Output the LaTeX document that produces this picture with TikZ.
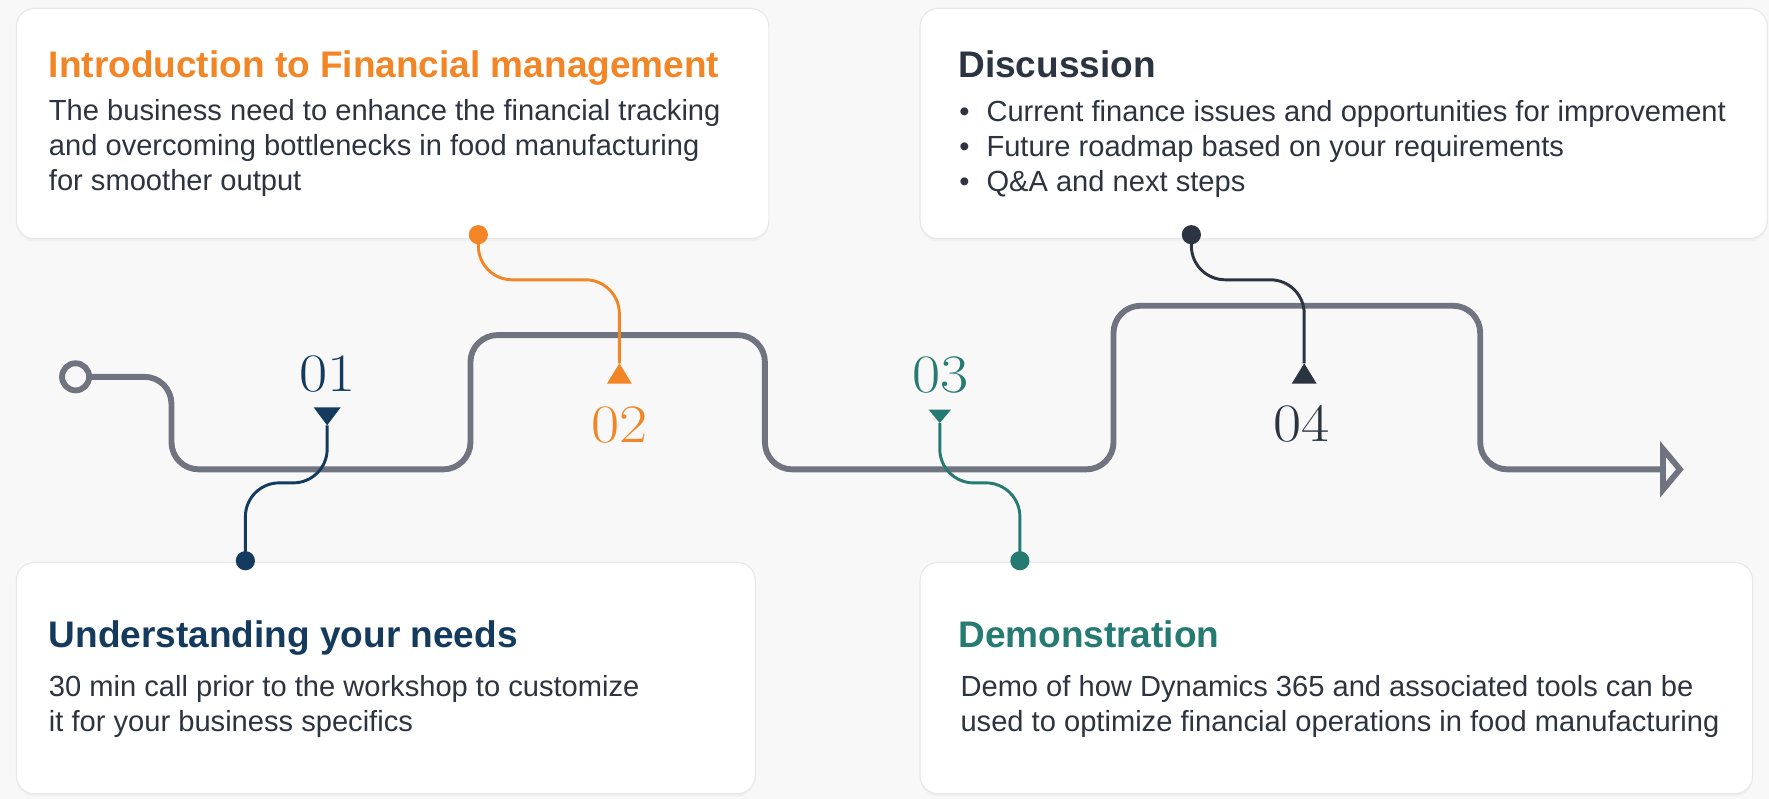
\documentclass[tikz,border=0pt]{standalone}
\usepackage{fontspec}
\usepackage{graphicx}
\newfontfamily\sansf{Liberation Sans}
\usetikzlibrary{calc,shadows}
\definecolor{bg}{RGB}{248,248,248}
\definecolor{pathgray}{RGB}{112,115,128}
\definecolor{cnavy}{RGB}{20,58,94}
\definecolor{corange}{RGB}{242,133,38}
\definecolor{cteal}{RGB}{37,122,114}
\definecolor{cslate}{RGB}{43,52,64}
\definecolor{ctext}{RGB}{45,52,64}
\newcommand{\wnum}[1]{\scalebox{1.13}[1]{#1}}
\begin{document}
\begin{tikzpicture}[x=0.5pt,y=-0.5pt,
  card/.style={fill=white, draw=black!9, line width=0.5pt, rounded corners=8pt, inner sep=0pt, anchor=north west,
    drop shadow={opacity=0.06, shadow xshift=0pt, shadow yshift=-1.2pt}},
  ttl/.style={anchor=base west, inner sep=0pt, font=\sansf\bfseries\fontsize{16.4}{19}\selectfont},
  bdy/.style={anchor=base west, inner sep=0pt, font=\sansf\fontsize{12.9}{15.5}\selectfont, text=ctext},
  num/.style={anchor=base, inner sep=0pt, font=\rmfamily\fontsize{24}{28}\selectfont\addfontfeatures{FakeBold=0.6}},
  mainline/.style={draw=pathgray, line width=2.6pt, rounded corners=12pt},
  link/.style={line width=1.3pt, rounded corners=15pt},
]
\useasboundingbox (0,0) rectangle (1568,708);
\fill[bg] (0,0) rectangle (1568,708);

% cards
\node[card, minimum width=333.5pt, minimum height=102pt] (c1) at (14,7) {};
\node[card, minimum width=375.5pt, minimum height=102pt] (c2) at (815,7) {};
\node[card, minimum width=327.5pt, minimum height=102.5pt] (c3) at (14,498) {};
\node[card, minimum width=369pt, minimum height=102.5pt] (c4) at (815,498) {};

% card texts
\node[ttl, text=corange] (t1) at (43,69) {Introduction to Financial management};
\node[bdy] (t1a) at (43,107) {The business need to enhance the financial tracking};
\node[bdy] (t1b) at (43,138) {and overcoming bottlenecks in food manufacturing};
\node[bdy] (t1c) at (43,169) {for smoother output};

\node[ttl, text=cslate] (t2) at (849,69) {Discussion};
\node[bdy] (b2a) at (850,108) {•};
\node[bdy] (t2a) at (874,108) {Current finance issues and opportunities for improvement};
\node[bdy] (b2b) at (850,139) {•};
\node[bdy] (t2b) at (874,139) {Future roadmap based on your requirements};
\node[bdy] (b2c) at (850,170) {•};
\node[bdy] (t2c) at (874,170) {Q\&A and next steps};

\node[ttl, text=cnavy] (t3) at (43,574) {Understanding your needs};
\node[bdy] (t3a) at (43,617) {30 min call prior to the workshop to customize};
\node[bdy] (t3b) at (43,648) {it for your business specifics};

\node[ttl, text=cteal] (t4) at (849,574) {Demonstration};
\node[bdy] (t4a) at (851,617) {Demo of how Dynamics 365 and associated tools can be};
\node[bdy] (t4b) at (851,648) {used to optimize financial operations in food manufacturing};

% main path
\node[circle, draw=pathgray, line width=2.6pt, minimum size=12pt, inner sep=0pt] (start) at (67,334) {};
\coordinate (p1) at (152,334);
\coordinate (p2) at (152,416);
\coordinate (p3) at (417,416);
\coordinate (p4) at (417,297);
\coordinate (p5) at (678,297);
\coordinate (p6) at (678,416);
\coordinate (p7) at (987,416);
\coordinate (p8) at (987,271);
\coordinate (p9) at (1312,271);
\coordinate (p10) at (1312,416);
\coordinate (pend) at (1474,416);
\draw[mainline] (start.east) -- (p1) -- (p2) -- (p3) -- (p4) -- (p5) -- (p6) -- (p7) -- (p8) -- (p9) -- (p10) -- (pend);
\draw[draw=pathgray, line width=2.6pt, line join=miter] ($(pend)+(0,-18)$) -- ($(pend)+(15,0)$) -- ($(pend)+(0,18)$) -- cycle;

% numbers
\node[num, text=cnavy] (n1) at (290,347) {\wnum{01}};
\node[num, text=corange] (n2) at (549,392) {\wnum{02}};
\node[num, text=cteal] (n3) at (834,348) {\wnum{03}};
\node[num, text=cslate] (n4) at (1154,391) {\wnum{04}};

% connectors
\coordinate (d1) at (217.5,497);
\coordinate (m1) at (290,377);
\coordinate (k1) at (0,428);
\draw[link, draw=cnavy] (d1) -- (d1 |- k1) -- (m1 |- k1) -- (m1);
\fill[cnavy] (m1) -- ++(-12,-16) -- ++(24,0) -- cycle;
\fill[cnavy] (d1) circle (8.5);

\coordinate (d2) at (424,208);
\coordinate (m2) at (549,322);
\coordinate (k2) at (0,248);
\draw[link, draw=corange] (d2) -- (d2 |- k2) -- (m2 |- k2) -- (m2);
\fill[corange] (m2) -- ++(-11,18) -- ++(22,0) -- cycle;
\fill[corange] (d2) circle (8.5);

\coordinate (d3) at (904,497);
\coordinate (m3) at (833,375);
\coordinate (k3) at (0,428);
\draw[link, draw=cteal] (d3) -- (d3 |- k3) -- (m3 |- k3) -- (m3);
\fill[cteal] (m3) -- ++(-10,-12) -- ++(20,0) -- cycle;
\fill[cteal] (d3) circle (8.5);

\coordinate (d4) at (1056,208);
\coordinate (m4) at (1156,322);
\coordinate (k4) at (0,248);
\draw[link, draw=cslate] (d4) -- (d4 |- k4) -- (m4 |- k4) -- (m4);
\fill[cslate] (m4) -- ++(-11,18) -- ++(22,0) -- cycle;
\fill[cslate] (d4) circle (8.5);
\end{tikzpicture}
\end{document}
